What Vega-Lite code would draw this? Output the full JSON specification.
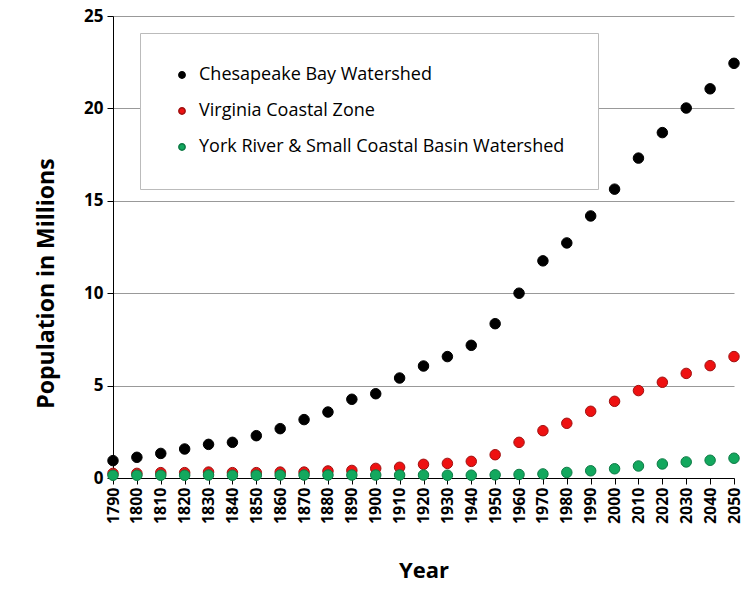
{
  "$schema": "https://vega.github.io/schema/vega-lite/v6.json",
  "width": 621,
  "height": 462,
  "autosize": {"type": "none"},
  "padding": {"left": 113, "top": 16, "right": 14, "bottom": 111},
  "background": "white",
  "config": {
    "view": {"stroke": null},
    "font": "Open Sans"
  },
  "data": {
    "values": [
      {"year": "1790", "series": "Chesapeake Bay Watershed", "pop": 0.94},
      {"year": "1800", "series": "Chesapeake Bay Watershed", "pop": 1.12},
      {"year": "1810", "series": "Chesapeake Bay Watershed", "pop": 1.33},
      {"year": "1820", "series": "Chesapeake Bay Watershed", "pop": 1.57},
      {"year": "1830", "series": "Chesapeake Bay Watershed", "pop": 1.82},
      {"year": "1840", "series": "Chesapeake Bay Watershed", "pop": 1.93},
      {"year": "1850", "series": "Chesapeake Bay Watershed", "pop": 2.29},
      {"year": "1860", "series": "Chesapeake Bay Watershed", "pop": 2.67},
      {"year": "1870", "series": "Chesapeake Bay Watershed", "pop": 3.16},
      {"year": "1880", "series": "Chesapeake Bay Watershed", "pop": 3.57},
      {"year": "1890", "series": "Chesapeake Bay Watershed", "pop": 4.26},
      {"year": "1900", "series": "Chesapeake Bay Watershed", "pop": 4.56},
      {"year": "1910", "series": "Chesapeake Bay Watershed", "pop": 5.41},
      {"year": "1920", "series": "Chesapeake Bay Watershed", "pop": 6.06},
      {"year": "1930", "series": "Chesapeake Bay Watershed", "pop": 6.57},
      {"year": "1940", "series": "Chesapeake Bay Watershed", "pop": 7.18},
      {"year": "1950", "series": "Chesapeake Bay Watershed", "pop": 8.35},
      {"year": "1960", "series": "Chesapeake Bay Watershed", "pop": 10.0},
      {"year": "1970", "series": "Chesapeake Bay Watershed", "pop": 11.75},
      {"year": "1980", "series": "Chesapeake Bay Watershed", "pop": 12.72},
      {"year": "1990", "series": "Chesapeake Bay Watershed", "pop": 14.18},
      {"year": "2000", "series": "Chesapeake Bay Watershed", "pop": 15.63},
      {"year": "2010", "series": "Chesapeake Bay Watershed", "pop": 17.31},
      {"year": "2020", "series": "Chesapeake Bay Watershed", "pop": 18.69},
      {"year": "2030", "series": "Chesapeake Bay Watershed", "pop": 20.02},
      {"year": "2040", "series": "Chesapeake Bay Watershed", "pop": 21.06},
      {"year": "2050", "series": "Chesapeake Bay Watershed", "pop": 22.44},
      {"year": "1790", "series": "Virginia Coastal Zone", "pop": 0.25},
      {"year": "1800", "series": "Virginia Coastal Zone", "pop": 0.25},
      {"year": "1810", "series": "Virginia Coastal Zone", "pop": 0.29},
      {"year": "1820", "series": "Virginia Coastal Zone", "pop": 0.29},
      {"year": "1830", "series": "Virginia Coastal Zone", "pop": 0.32},
      {"year": "1840", "series": "Virginia Coastal Zone", "pop": 0.29},
      {"year": "1850", "series": "Virginia Coastal Zone", "pop": 0.29},
      {"year": "1860", "series": "Virginia Coastal Zone", "pop": 0.32},
      {"year": "1870", "series": "Virginia Coastal Zone", "pop": 0.32},
      {"year": "1880", "series": "Virginia Coastal Zone", "pop": 0.38},
      {"year": "1890", "series": "Virginia Coastal Zone", "pop": 0.41},
      {"year": "1900", "series": "Virginia Coastal Zone", "pop": 0.52},
      {"year": "1910", "series": "Virginia Coastal Zone", "pop": 0.58},
      {"year": "1920", "series": "Virginia Coastal Zone", "pop": 0.74},
      {"year": "1930", "series": "Virginia Coastal Zone", "pop": 0.79},
      {"year": "1940", "series": "Virginia Coastal Zone", "pop": 0.9},
      {"year": "1950", "series": "Virginia Coastal Zone", "pop": 1.26},
      {"year": "1960", "series": "Virginia Coastal Zone", "pop": 1.93},
      {"year": "1970", "series": "Virginia Coastal Zone", "pop": 2.56},
      {"year": "1980", "series": "Virginia Coastal Zone", "pop": 2.96},
      {"year": "1990", "series": "Virginia Coastal Zone", "pop": 3.61},
      {"year": "2000", "series": "Virginia Coastal Zone", "pop": 4.15},
      {"year": "2010", "series": "Virginia Coastal Zone", "pop": 4.73},
      {"year": "2020", "series": "Virginia Coastal Zone", "pop": 5.18},
      {"year": "2030", "series": "Virginia Coastal Zone", "pop": 5.66},
      {"year": "2040", "series": "Virginia Coastal Zone", "pop": 6.08},
      {"year": "2050", "series": "Virginia Coastal Zone", "pop": 6.57},
      {"year": "1790", "series": "York River & Small Coastal Basin Watershed", "pop": 0.15},
      {"year": "1800", "series": "York River & Small Coastal Basin Watershed", "pop": 0.15},
      {"year": "1810", "series": "York River & Small Coastal Basin Watershed", "pop": 0.15},
      {"year": "1820", "series": "York River & Small Coastal Basin Watershed", "pop": 0.15},
      {"year": "1830", "series": "York River & Small Coastal Basin Watershed", "pop": 0.16},
      {"year": "1840", "series": "York River & Small Coastal Basin Watershed", "pop": 0.15},
      {"year": "1850", "series": "York River & Small Coastal Basin Watershed", "pop": 0.15},
      {"year": "1860", "series": "York River & Small Coastal Basin Watershed", "pop": 0.16},
      {"year": "1870", "series": "York River & Small Coastal Basin Watershed", "pop": 0.16},
      {"year": "1880", "series": "York River & Small Coastal Basin Watershed", "pop": 0.16},
      {"year": "1890", "series": "York River & Small Coastal Basin Watershed", "pop": 0.16},
      {"year": "1900", "series": "York River & Small Coastal Basin Watershed", "pop": 0.16},
      {"year": "1910", "series": "York River & Small Coastal Basin Watershed", "pop": 0.16},
      {"year": "1920", "series": "York River & Small Coastal Basin Watershed", "pop": 0.16},
      {"year": "1930", "series": "York River & Small Coastal Basin Watershed", "pop": 0.15},
      {"year": "1940", "series": "York River & Small Coastal Basin Watershed", "pop": 0.15},
      {"year": "1950", "series": "York River & Small Coastal Basin Watershed", "pop": 0.17},
      {"year": "1960", "series": "York River & Small Coastal Basin Watershed", "pop": 0.19},
      {"year": "1970", "series": "York River & Small Coastal Basin Watershed", "pop": 0.22},
      {"year": "1980", "series": "York River & Small Coastal Basin Watershed", "pop": 0.3},
      {"year": "1990", "series": "York River & Small Coastal Basin Watershed", "pop": 0.39},
      {"year": "2000", "series": "York River & Small Coastal Basin Watershed", "pop": 0.5},
      {"year": "2010", "series": "York River & Small Coastal Basin Watershed", "pop": 0.65},
      {"year": "2020", "series": "York River & Small Coastal Basin Watershed", "pop": 0.76},
      {"year": "2030", "series": "York River & Small Coastal Basin Watershed", "pop": 0.87},
      {"year": "2040", "series": "York River & Small Coastal Basin Watershed", "pop": 0.96},
      {"year": "2050", "series": "York River & Small Coastal Basin Watershed", "pop": 1.07}
    ]
  },
  "mark": {"type": "point", "filled": true, "size": 110, "opacity": 1, "strokeWidth": 1},
  "encoding": {
    "x": {
      "field": "year",
      "type": "ordinal",
      "sort": null,
      "scale": {"type": "point", "padding": 0},
      "axis": {
        "title": "Year",
        "titleFontSize": 22,
        "titleFontWeight": "bold",
        "titleColor": "black",
        "titlePadding": 37,
        "labelAngle": 270,
        "labelAlign": "right",
        "labelBaseline": "middle",
        "labelFontSize": 16,
        "labelFontWeight": "bold",
        "labelColor": "black",
        "labelPadding": 3,
        "tickColor": "black",
        "tickSize": 6,
        "domainColor": "black",
        "grid": false
      }
    },
    "y": {
      "field": "pop",
      "type": "quantitative",
      "scale": {"domain": [0, 25], "nice": false},
      "axis": {
        "title": "Population in Millions",
        "titleFontSize": 23,
        "titleFontWeight": "bold",
        "titleColor": "black",
        "titlePadding": 25,
        "titleY": 267,
        "values": [0, 5, 10, 15, 20, 25],
        "labelFontSize": 17,
        "labelFontWeight": "bold",
        "labelColor": "black",
        "labelPadding": 4,
        "tickColor": "black",
        "tickSize": 6,
        "domainColor": "black",
        "grid": true,
        "gridColor": "#999999",
        "gridWidth": 1
      }
    },
    "color": {
      "field": "series",
      "type": "nominal",
      "sort": null,
      "scale": {
        "domain": ["Chesapeake Bay Watershed", "Virginia Coastal Zone", "York River & Small Coastal Basin Watershed"],
        "range": ["#000000", "#ee1111", "#13a85e"]
      },
      "legend": {
        "title": null,
        "orient": "none",
        "legendX": 27,
        "legendY": 17,
        "direction": "vertical",
        "fillColor": "white",
        "strokeColor": "#bbbbbb",
        "padding": 33,
        "symbolSize": 40,
        "symbolType": "circle",
        "labelFontSize": 18,
        "labelColor": "black",
        "labelOffset": 8,
        "labelLimit": 500,
        "rowPadding": 18
      }
    },
    "stroke": {
      "field": "series",
      "type": "nominal",
      "scale": {
        "domain": ["Chesapeake Bay Watershed", "Virginia Coastal Zone", "York River & Small Coastal Basin Watershed"],
        "range": ["#000000", "#a01010", "#0d7a45"]
      },
      "legend": null
    }
  }
}
